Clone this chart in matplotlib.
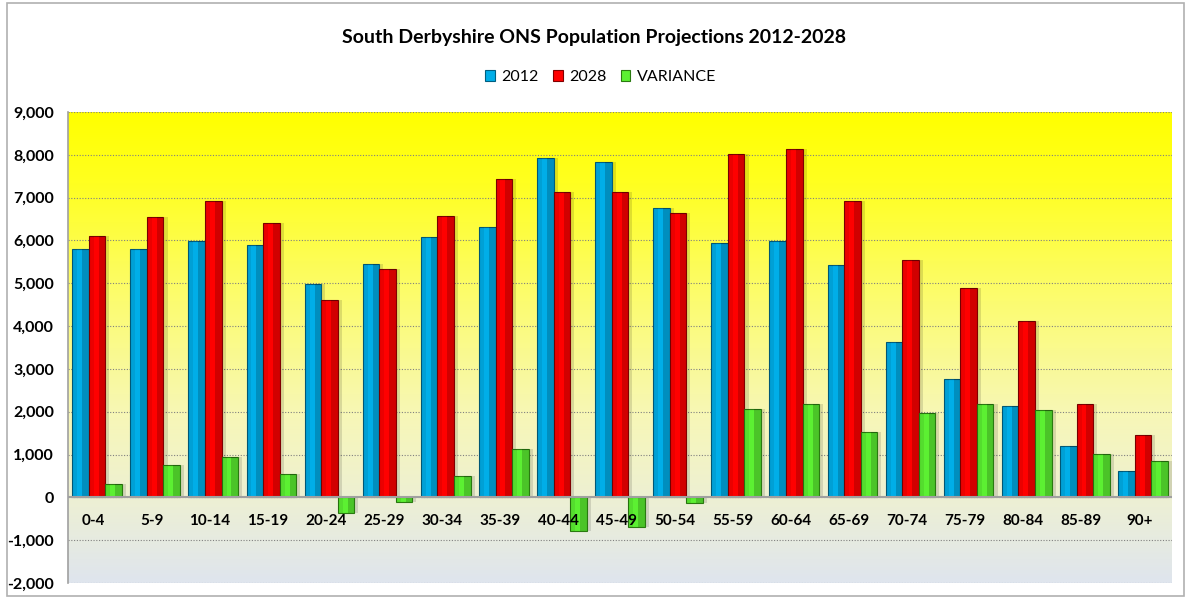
import numpy as np
import matplotlib
matplotlib.use("Agg")
import matplotlib.pyplot as plt
from matplotlib.colors import LinearSegmentedColormap
from matplotlib.patches import Rectangle
from matplotlib.transforms import offset_copy

plt.rcParams['font.family'] = ['Lato', 'DejaVu Sans']

# data
ages = ['0-4', '5-9', '10-14', '15-19', '20-24', '25-29', '30-34', '35-39', '40-44',
        '45-49', '50-54', '55-59', '60-64', '65-69', '70-74', '75-79', '80-84', '85-89', '90+']
pop_2012 = [5790, 5790, 5980, 5890, 4985, 5450, 6080, 6325, 7920,
            7830, 6760, 5945, 5980, 5420, 3630, 2760, 2140, 1210, 625]
pop_2028 = [6100, 6540, 6920, 6410, 4620, 5340, 6570, 7440, 7130,
            7130, 6630, 8010, 8130, 6920, 5550, 4880, 4130, 2180, 1465]
variance = [310, 750, 950, 540, -365, -110, 500, 1140, -790,
            -700, -130, 2060, 2180, 1520, 1970, 2180, 2030, 1015, 860]

W, H = 1187, 598
fig = plt.figure(figsize=(W / 100, H / 100), dpi=100)
ax = fig.add_axes([68 / W, 1 - 583 / H, (1172 - 68) / W, (583 - 112) / H])

# background gradient (yellow at top to pale grey-blue at bottom)
cmap = LinearSegmentedColormap.from_list('bg', [
    (0.0, '#dfe5ee'), (0.16, '#ecefd6'), (0.35, '#f7f7b8'),
    (0.6, '#fcfc70'), (0.85, '#ffff20'), (1.0, '#ffff00')])
grad = np.linspace(0, 1, 256).reshape(-1, 1)
ax.imshow(grad, cmap=cmap, aspect='auto', origin='lower',
          extent=[0, 1, 0, 1], transform=ax.transAxes, zorder=0)

x = np.arange(len(ages))
w = 0.285
series = [(pop_2012, '#00aee8', '#005f80', '2012'),
          (pop_2028, '#ff0000', '#800000', '2028'),
          (variance, '#5cf032', '#2a7a10', 'VARIANCE')]
for i, (vals, col, edge, lab) in enumerate(series):
    pos = x + (i - 1) * w
    # soft shadow
    ax.bar(pos + 0.07, vals, w, bottom=0, color='#000000', alpha=0.12,
           linewidth=0, zorder=2)
    ax.bar(pos, vals, w, color=col, edgecolor=edge, linewidth=0.8,
           label=lab, zorder=3)
    # darker sides for a bevelled look
    ax.bar(pos + w * 0.3, vals, w * 0.4, color='#000000', alpha=0.18,
           linewidth=0, zorder=4)
    ax.bar(pos - w * 0.35, vals, w * 0.3, color='#000000', alpha=0.08,
           linewidth=0, zorder=4)

ax.set_xlim(-0.5, len(ages) - 0.5)
ax.set_ylim(-2000, 9000)
ax.set_yticks(np.arange(-2000, 9001, 1000))
ax.yaxis.set_major_formatter(matplotlib.ticker.FuncFormatter(lambda v, p: f'{int(v):,}'))
ax.grid(axis='y', color='#808080', linestyle=(0, (1, 1.5)), linewidth=0.8, zorder=1)
ax.set_axisbelow(True)
ax.axhline(0, color='#a0a0a0', linewidth=1.5, zorder=5)

# category labels just under the zero line, drawn on top of the bars
ax.set_xticks([])
lab_tr = offset_copy(ax.transData, fig=fig, x=0, y=-24, units='dots')
for xi, a in zip(x, ages):
    ax.text(xi - 0.06, 0, a, transform=lab_tr, ha='center', va='center',
            fontsize=11, fontweight='bold', zorder=10)

ax.spines['left'].set_color('#a0a0a0')
ax.spines['left'].set_linewidth(1.2)
ax.spines['top'].set_visible(False)
ax.spines['right'].set_visible(False)
ax.spines['bottom'].set_visible(False)
ax.tick_params(axis='y', length=0, pad=10, labelsize=11.5)
for t in ax.get_yticklabels():
    t.set_fontweight('bold')

fig.text(0.5, 1 - 37 / H, 'South Derbyshire ONS Population Projections 2012-2028',
         ha='center', va='center', fontsize=14, fontweight='bold')
fig.legend(loc='center', bbox_to_anchor=(0.506, 1 - 77 / H), ncol=3, frameon=False,
           fontsize=11.5, handlelength=0.6, handleheight=0.7, columnspacing=0.9,
           handletextpad=0.4)

fig.patches.append(Rectangle((7 / W, 2 / H), 1 - 10 / W, 1 - 5 / H, transform=fig.transFigure,
                             fill=False, edgecolor='#b0b0b0', linewidth=1.2))

fig.savefig('out.png', dpi=100)
